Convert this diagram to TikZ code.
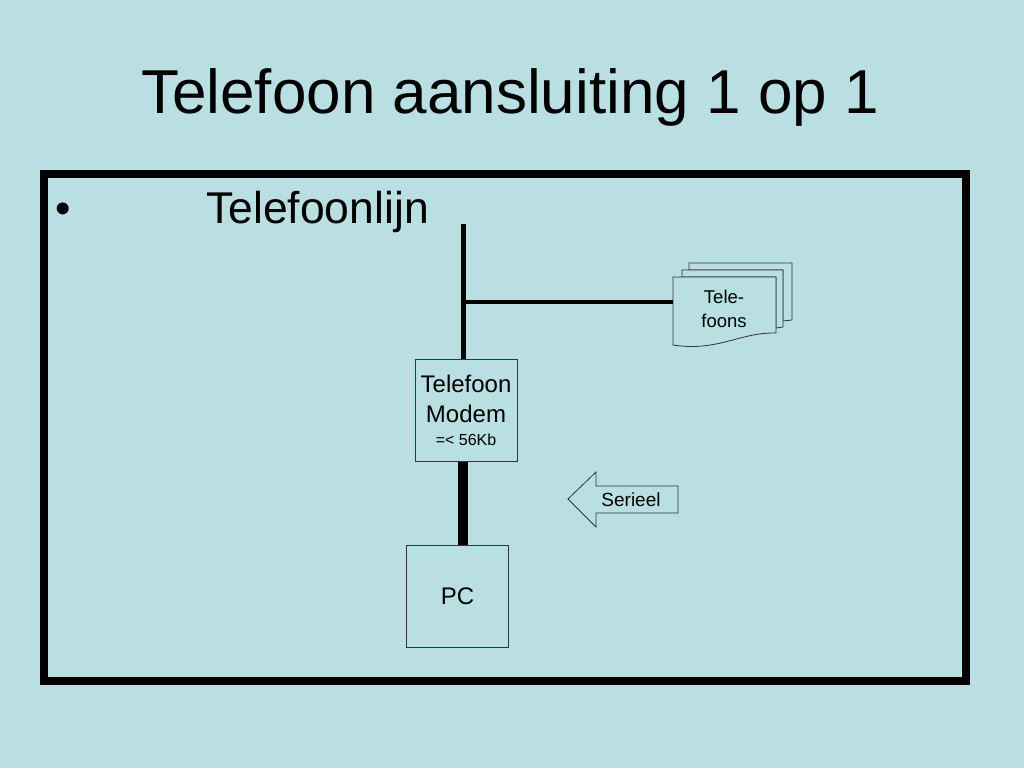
\documentclass[tikz,border=0pt]{standalone}
\usepackage{fontspec}
\setmainfont{Liberation Sans}
\usepackage{tikz}
\usetikzlibrary{positioning}
\definecolor{slide}{RGB}{185,223,227}

\begin{document}
\begin{tikzpicture}[
        x=1pt,y=-1pt,
        box/.style={draw=black!80,line width=0.8pt,fill=slide,minimum width=#1,minimum height=#1,
              inner sep=0pt,align=center},
        box/.default = 102pt,
        doc/.style={draw=black!80,line width=0.8pt,fill=slide},
        wire/.style={line width=#1,draw=black},
        wire/.default = 4pt,
    ]
    \useasboundingbox (0,0) rectangle (1024,768);
    \fill[slide] (0,0) rectangle (1024,768);
    % Titel
    \node[font=\fontsize{62}{70}\selectfont] (title) at (510,97) {Telefoon aansluiting 1 op 1};
    % Kader
    \draw[line width=8pt] (44,174) rectangle (966,681);
    \node[font=\fontsize{44}{50}\selectfont,anchor=base west] (bullet) at (52,223) {\textbullet};
    \node[font=\fontsize{44.5}{50}\selectfont,anchor=base west,inner sep=0pt] (line) at (206,223) {Telefoonlijn};
    % Modem
    \node[box,font=\fontsize{24}{30}\selectfont] (modem) at (466,410.5)
        {Telefoon\\Modem\\[-7pt]{\fontsize{16}{18}\selectfont =< 56Kb}};
    % PC
    \node[box=102pt,font=\fontsize{24}{28}\selectfont] (pc) at (457.5,596) {PC};
    % Telefoons
    \draw[doc] (689,263) -- (792,263) -- (792,320) -- (783,321) -- (783,270) -- (689,270) -- cycle;
    \draw[doc] (682,270) -- (783,270) -- (783,327) -- (776,328) -- (776,277) -- (682,277) -- cycle;
    \draw[doc] (673,277) -- (776,277) -- (776,333)
        .. controls (740,332) and (718,352) .. (673,345) -- cycle;
    \node[align=center,font=\fontsize{18.5}{24}\selectfont] (phones) at (724,309) {Tele-\\foons};
    \coordinate (phonesin) at (673,302);
    % Lijn
    \coordinate (top) at (463,224);
    \coordinate (split) at (463,302);
    \draw[wire=5pt] (top) -- (top |- modem.north);
    \draw[wire] (split) -- (phonesin);
    \draw[wire=10pt] (modem.south -| top) -- (pc.north -| top);
    % Serieel
    \draw[doc] (568,499) -- (596,472) -- (596,486) -- (678,486) -- (678,513) -- (596,513) -- (596,527) -- cycle;
    \node[font=\fontsize{19}{22}\selectfont] (serial) at (631,500) {Serieel};
    \end{tikzpicture}
\end{document}
